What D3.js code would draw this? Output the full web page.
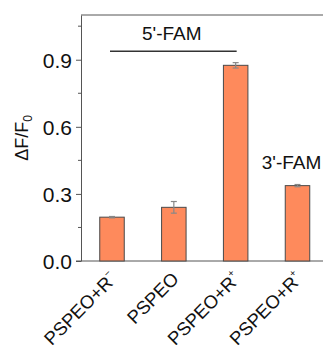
<!DOCTYPE html>
<html>
<head>
    <script src="https://d3js.org/d3.v7.min.js"></script>
    <style>
        body { margin: 0; background: #fff; }
        text { font-family: Arial, "Liberation Sans", sans-serif; }
    </style>
</head>
<body>
<script>
const categories = ['c1', 'c2', 'c3', 'c4'];
const labels = [['PSPEO+R', '\u2212'], ['PSPEO', ''], ['PSPEO+R', '+'], ['PSPEO+R', '+']];
const values = [0.196, 0.240, 0.875, 0.337];
const errors = [0.003, 0.026, 0.012, 0.005];
const yTicks = [0, 0.3, 0.6, 0.9];
const yMinor = [0.15, 0.45, 0.75, 1.05];

const width = 323, height = 345;
const margin = { top: 15, bottom: 84, left: 81 };
const barW = 24.5;

// bar centres
const x = d3.scalePoint()
    .domain(categories)
    .range([112, 297.5]);

const y = d3.scaleLinear()
    .domain([0, 1.1])
    .range([height - margin.bottom, margin.top]);

const svg = d3.select('body').append('svg')
    .attr('width', width)
    .attr('height', height);

// top frame line
svg.append('line')
    .attr('x1', margin.left).attr('x2', width)
    .attr('y1', y(1.1)).attr('y2', y(1.1))
    .attr('stroke', '#555').attr('stroke-width', 1);

// y axis
const yAxis = svg.append('g')
    .attr('transform', `translate(${margin.left},0)`)
    .call(d3.axisLeft(y).tickValues(yTicks).tickFormat(d3.format('.1f')).tickSize(5).tickSizeOuter(0));
yAxis.selectAll('text').attr('font-size', 21).attr('fill', '#111').attr('dx', -1).attr('dy', '0.36em');
yAxis.selectAll('line, path').attr('stroke', '#555');

svg.append('g')
    .attr('transform', `translate(${margin.left},0)`)
    .selectAll('line').data(yMinor).join('line')
    .attr('x1', -3).attr('x2', 0)
    .attr('y1', d => y(d)).attr('y2', d => y(d))
    .attr('stroke', '#555');

// x baseline
svg.append('line')
    .attr('x1', margin.left - 5).attr('x2', width)
    .attr('y1', y(0)).attr('y2', y(0))
    .attr('stroke', '#555');

// bars
svg.append('g').selectAll('rect').data(values).join('rect')
    .attr('x', (d, i) => x(categories[i]) - barW / 2)
    .attr('width', barW)
    .attr('y', d => y(d))
    .attr('height', d => y(0) - y(d))
    .attr('fill', '#fe8a5c')
    .attr('stroke', '#4a4a4a')
    .attr('stroke-width', 1);

// error bars
const eb = svg.append('g').attr('stroke', '#888').attr('stroke-width', 1.2);
values.forEach((v, i) => {
    const cx = x(categories[i]);
    eb.append('line').attr('x1', cx).attr('x2', cx).attr('y1', y(v + errors[i])).attr('y2', y(v - errors[i]));
    eb.append('line').attr('x1', cx - 3).attr('x2', cx + 3).attr('y1', y(v + errors[i])).attr('y2', y(v + errors[i]));
    eb.append('line').attr('x1', cx - 3).attr('x2', cx + 3).attr('y1', y(v - errors[i])).attr('y2', y(v - errors[i]));
});

// x labels
svg.append('g').selectAll('text').data(labels).join('text')
    .attr('transform', (d, i) => `translate(${x(categories[i]) + 6},${y(0) + 19}) rotate(-45)`)
    .attr('text-anchor', 'end')
    .attr('font-size', 18.5)
    .attr('fill', '#111')
    .each(function (d) {
        const t = d3.select(this);
        t.append('tspan').text(d[0]);
        if (d[1]) t.append('tspan').attr('font-size', 10).attr('dy', -9).text(d[1]);
    });

// y label
svg.append('text')
    .attr('transform', `translate(28,${y(0.55)}) rotate(-90)`)
    .attr('text-anchor', 'middle')
    .attr('font-size', 18)
    .attr('fill', '#111')
    .call(t => {
        t.append('tspan').text('\u0394F/F');
        t.append('tspan').attr('font-size', 12).attr('dy', 4).text('0');
    });

// group annotations
const c1 = x(categories[0]);
const c3 = x(categories[2]);
const c4 = x(categories[3]);
svg.append('line')
    .attr('x1', c1 - 2).attr('x2', c3 + 1)
    .attr('y1', y(0.938)).attr('y2', y(0.938))
    .attr('stroke', '#333').attr('stroke-width', 1.3);
svg.append('text')
    .attr('x', (c1 + c3) / 2 - 2).attr('y', y(0.99))
    .attr('text-anchor', 'middle').attr('font-size', 19).attr('fill', '#111')
    .text("5'-FAM");
svg.append('text')
    .attr('x', c4 - 6).attr('y', y(0.41))
    .attr('text-anchor', 'middle').attr('font-size', 19).attr('fill', '#111')
    .text("3'-FAM");
</script>
</body>
</html>
